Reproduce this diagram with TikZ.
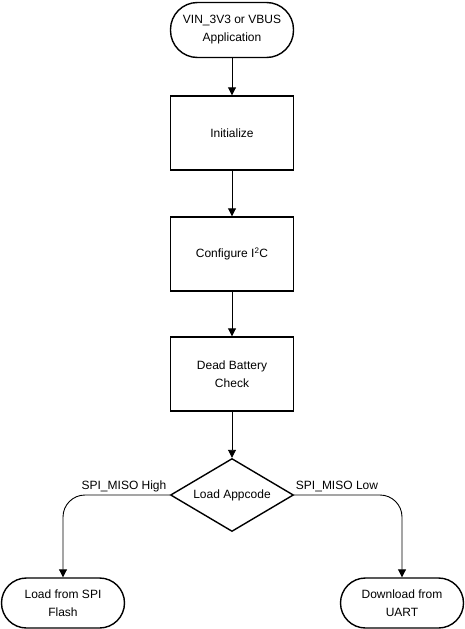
\documentclass[tikz,border=0pt]{standalone}
\usepackage{fontspec}
\setmainfont{Liberation Sans}
\usetikzlibrary{positioning}
\usetikzlibrary{shapes.geometric}
\usetikzlibrary{arrows.meta}

\begin{document}
\begin{tikzpicture}[x=1pt, y=-1pt,
  every node/.style={font=\fontsize{12}{18}\selectfont, align=center},
  procbox/.style={draw, line width=1.4pt, minimum width=123pt, minimum height=74pt, inner sep=0pt},
  termbox/.style={draw, line width=1.4pt, minimum width=123pt, inner sep=0pt},
  choice/.style={draw, diamond, line width=1.4pt, minimum width=123pt, minimum height=73pt, aspect=1.68, inner sep=0pt},
  flow/.style={line width=0.9pt, -{Triangle[length=8pt,width=8pt]}}]

  \useasboundingbox (0,0) rectangle (464,629);

  \node [termbox, minimum height=55pt, rounded corners=27pt] (start) at (232,30)
    {VIN\_3V3 or VBUS\\Application};

  \node [procbox] (init) at (232,133) {Initialize};
  \node [procbox] (iic) at (232,254) {Configure I\textsuperscript{2}C};
  \node [procbox] (dbc) at (232,374) {Dead Battery\\Check};

  \node [choice] (appcode) at (232,495) {Load Appcode};

  \node [termbox, minimum height=50pt, rounded corners=25pt] (flash) at (63,603)
    {Load from SPI\\Flash};
  \node [termbox, minimum height=50pt, rounded corners=25pt] (uart) at (402,603)
    {Download from\\UART};

  \draw [flow] (start) -- (init);
  \draw [flow] (init) -- (iic);
  \draw [flow] (iic) -- (dbc);
  \draw [flow] (dbc) -- (appcode);

  \draw [flow, rounded corners=22pt] (appcode.west) -| (flash.north);
  \draw [flow, rounded corners=22pt] (appcode.east) -| (uart.north);

  \node [anchor=base] (high) at (124,489) {SPI\_MISO High};
  \node [anchor=base] (low) at (337,489) {SPI\_MISO Low};

\end{tikzpicture}
\end{document}
